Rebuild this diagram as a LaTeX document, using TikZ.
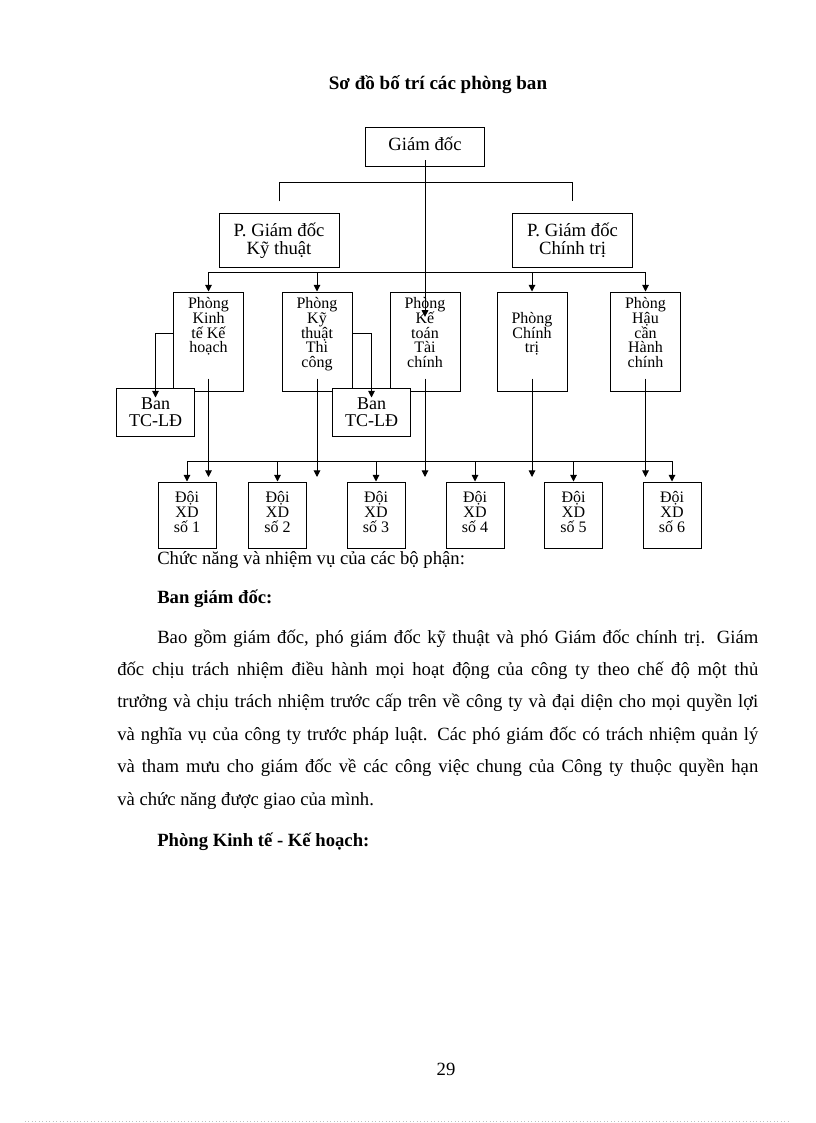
\documentclass[tikz,border=0pt]{standalone}
\usepackage{fontspec}
\setmainfont{Liberation Serif}
\usetikzlibrary{arrows.meta,positioning}

\newcommand{\tightlines}{\lineskiplimit=-20pt\relax}
\newcommand{\dept}[1]{\parbox[c][74.25pt][t]{52.5pt}{\centering\tightlines\rule{0pt}{12.5pt}#1}}
\newcommand{\fullline}[2]{\makebox[#1][s]{#2}}

\begin{document}
\begin{tikzpicture}[x=0.75pt,y=-0.75pt,
    orgbox/.style={draw,line width=0.75pt,fill=white,inner sep=0pt},
    link/.style={line width=0.75pt},
    arr/.style={link,-{Triangle[width=5pt,length=5pt]}},
    body/.style={anchor=base west,inner sep=0pt,font=\fontsize{14}{16}\selectfont}]
    \fill[white] (0,0) rectangle (816,1123);
    \useasboundingbox (0,0) rectangle (816,1123);

    % Title
    \node[font=\fontsize{14.3}{16}\selectfont\bfseries] (title) at (438,85) {Sơ đồ bố trí các phòng ban};

    % Giam doc and deputies
    \node[orgbox,minimum width=89.25pt,minimum height=29.25pt,text depth=6pt,font=\fontsize{14}{16}\selectfont] (gd) at (425,147.5) {Giám đốc};
    \node[orgbox,align=center,minimum width=90pt,minimum height=39.75pt,font={\fontsize{14}{13.5}\selectfont\tightlines}] (pgdkt) at (279,240.5) {P. Giám đốc\\Kỹ thuật};
    \node[orgbox,align=center,minimum width=90pt,minimum height=39.75pt,font={\fontsize{14}{13.5}\selectfont\tightlines}] (pgdct) at (572.5,240.5) {P. Giám đốc\\Chính trị};

    % Phong ban
    \node[orgbox,font=\fontsize{12}{11}\selectfont] (pkinhte) at (208.5,341.5) {\dept{Phòng\\Kinh\\tế Kế\\hoạch}};
    \node[orgbox,font=\fontsize{12}{11}\selectfont] (pkythuat) at (317,341.5) {\dept{Phòng\\Kỹ\\thuật\\Thi\\công}};
    \node[orgbox,font=\fontsize{12}{11}\selectfont] (pketoan) at (425,341.5) {\dept{Phòng\\Kế\\toán\\Tài\\chính}};
    \node[orgbox,font=\fontsize{12}{11}\selectfont] (pchinhtri) at (532,341.5) {\dept{\\Phòng\\Chính\\trị}};
    \node[orgbox,font=\fontsize{12}{11}\selectfont] (phaucan) at (645.5,341.5) {\dept{Phòng\\Hậu\\cần\\Hành\\chính}};

    % Ban TC-LD (over the boxes)
    \node[orgbox,align=center,minimum width=58pt,minimum height=36pt,font={\fontsize{13.5}{12.5}\selectfont\tightlines}] (bantc1) at (155.5,412) {Ban\\TC-LĐ};
    \node[orgbox,align=center,minimum width=58pt,minimum height=36pt,font={\fontsize{13.5}{12.5}\selectfont\tightlines}] (bantc2) at (371.5,412) {Ban\\TC-LĐ};

    % Doi XD
    \foreach \x [count=\i] in {187,277.5,376,475,573.5,672}
        \node[orgbox,align=center,minimum width=43.5pt,minimum height=49.5pt,font={\fontsize{12}{11.25}\selectfont\tightlines}] (doi\i) at (\x,515) {Đội\\XD\\số \i\rule[-4pt]{0pt}{4pt}};

    % Links from the top
    \draw[link] ([yshift=9pt]pgdkt.north) |- ([yshift=23.25pt]pgdct.north) -- ([yshift=9pt]pgdct.north);
    \draw[arr] ([yshift=5.25pt]gd.south) -- ([yshift=-19pt]pketoan.north);

    % Rail under the deputies
    \coordinate (rail) at (0,272);
    \draw[link] (rail -| pkinhte.north) -- (rail -| phaucan.north);
    \foreach \p in {pkinhte,pkythuat,pchinhtri,phaucan}
        \draw[arr] (rail -| \p.north) -- (\p.north);

    % Ban TC-LD links
    \draw[arr] ([yshift=-31.5pt]pkinhte.north west) -| ([yshift=-7.5pt]bantc1.north);
    \draw[arr] ([yshift=-31.5pt]pkythuat.north east) -| ([yshift=-7.5pt]bantc2.north);

    % Down to the Doi row
    \coordinate (tip) at (0,477);
    \foreach \p in {pkinhte,pkythuat,pketoan,pchinhtri,phaucan}
        \draw[arr] ([yshift=9.75pt]\p.south) -- (\p.south |- tip);
    \coordinate (bar) at (0,461);
    \draw[link] (bar -| doi1.north) -- (bar -| doi6.north);
    \foreach \i in {1,...,6}
        \draw[arr] (bar -| doi\i.north) -- (doi\i.north);

    % Text below
    \node[body] (chucnang) at (157,564) {Chức năng và nhiệm vụ của các bộ phận:};
    \node[body,font=\fontsize{14}{16}\selectfont\bfseries] (bangd) at (157,603) {Ban giám đốc:};
    \node[body] (l1) at (157,643) {\fullline{450.75pt}{Bao gồm giám đốc, phó giám đốc kỹ thuật và phó Giám đốc chính trị. Giám}};
    \node[body] (l2) at (117,675.4) {\fullline{480.75pt}{đốc chịu trách nhiệm điều hành mọi hoạt động của công ty theo chế độ một thủ}};
    \node[body] (l3) at (117,707.8) {\fullline{480.75pt}{trưởng và chịu trách nhiệm trước cấp trên về công ty và đại diện cho mọi quyền lợi}};
    \node[body] (l4) at (117,740.2) {\fullline{480.75pt}{và nghĩa vụ của công ty trước pháp luật. Các phó giám đốc có trách nhiệm quản lý}};
    \node[body] (l5) at (117,772.6) {\fullline{480.75pt}{và tham mưu cho giám đốc về các công việc chung của Công ty thuộc quyền hạn}};
    \node[body] (l6) at (117,805) {và chức năng được giao của mình.};
    \node[body,font=\fontsize{14}{16}\selectfont\bfseries] (pkthead) at (157,846) {Phòng Kinh tế - Kế hoạch:};

    % Page number and footer
    \node[font=\fontsize{14}{16}\selectfont] (page) at (446,1069) {29};
    \draw[gray!50,dotted,line width=0.6pt] (25,1121) -- (790,1121);
\end{tikzpicture}
\end{document}
